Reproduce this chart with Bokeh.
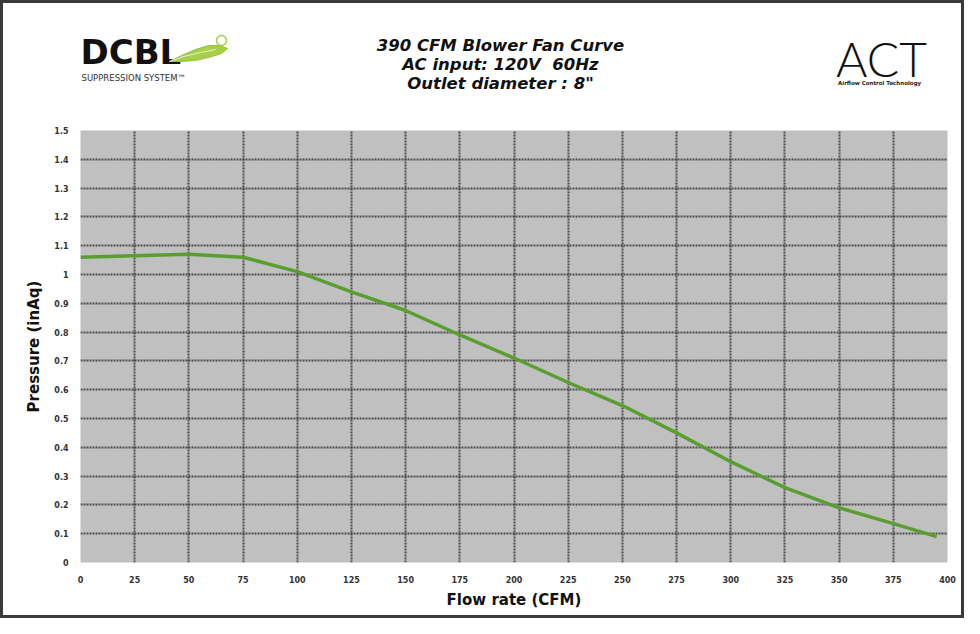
from bokeh.plotting import figure
from bokeh.layouts import column
from bokeh.models import Range1d, FixedTicker
from bokeh.core.properties import value
from bokeh.embed import file_html
from bokeh.resources import INLINE

# Data
flow_cfm = [0, 25, 50, 75, 100, 125, 150, 175, 200, 225, 250, 275, 300, 325, 350, 375, 395]
pressure_inaq = [1.06, 1.065, 1.07, 1.06, 1.01, 0.94, 0.875, 0.79, 0.71, 0.625, 0.545, 0.45, 0.35, 0.26, 0.19, 0.135, 0.09]
x_ticks = [0, 25, 50, 75, 100, 125, 150, 175, 200, 225, 250, 275, 300, 325, 350, 375, 400]
y_ticks = [0, 0.1, 0.2, 0.3, 0.4, 0.5, 0.6, 0.7, 0.8, 0.9, 1.0, 1.1, 1.2, 1.3, 1.4, 1.5]
title_lines = ["390 CFM Blower Fan Curve", "AC input: 120V\u00a0 60Hz", "Outlet diameter : 8\""]
logo_left = ["DCBL", "SUPPRESSION SYSTEM\u2122"]
logo_right = ["ACT", "Airflow  Control  Technology"]

W = 958
HH = 120   # header height
MH = 492   # main plot height
BL, BR = 77, 14  # left/right borders of the chart frame (header frame is aligned to it)

# ---------- header (logos and title) ----------
hdr = figure(width=W, height=HH, output_backend="svg", toolbar_location=None,
             x_axis_location=None, y_axis_location=None,
             x_range=Range1d(BL, W - BR), y_range=Range1d(HH, 0),
             min_border=0, min_border_left=BL, min_border_right=BR,
             min_border_top=0, min_border_bottom=0)
hdr.grid.visible = False
hdr.outline_line_color = None
hdr.background_fill_color = "white"
hdr.border_fill_color = "white"

hdr.text(x=[497, 497, 497], y=[42, 61, 80], text=title_lines,
         text_align="center", text_baseline="middle",
         text_font=value("DejaVu Sans"), text_font_style="bold italic",
         text_font_size="16.5px", text_color="#111111")

hdr.text(x=[77], y=[48], text=[logo_left[0]], text_align="left", text_baseline="middle",
         text_font=value("DejaVu Sans"), text_font_style="bold",
         text_font_size="34px", text_color="#111111")
# leaf
hdr.patch(x=[166, 178, 192, 205, 216, 224, 218, 205, 192, 178],
          y=[58, 52, 46, 42, 42, 45, 50, 54, 57, 58],
          fill_color="#a6cf4c", line_color="#94c23c", line_width=1)
hdr.line(x=[166, 180, 197, 212], y=[58, 53, 49, 46], line_color="#e8f3d0", line_width=1)
hdr.circle(x=[218], y=[37], radius=5, fill_color="white", line_color="#a6cf4c", line_width=1.5)
hdr.text(x=[78], y=[74], text=[logo_left[1]], text_align="left", text_baseline="middle",
         text_font=value("DejaVu Sans"), text_font_size="8.5px", text_color="#333333")

hdr.text(x=[878], y=[55], text=[logo_right[0]], text_align="center", text_baseline="middle",
         text_font=value("'Lato Light', 'DejaVu Sans Light', 'Lato Hairline', sans-serif"),
         text_font_size="48px", text_color="#111111")
hdr.text(x=[878], y=[79], text=[logo_right[1]], text_align="center", text_baseline="middle",
         text_font=value("DejaVu Sans"), text_font_style="bold",
         text_font_size="5.5px", text_color="#222222")

# ---------- main chart ----------
p = figure(width=W, height=MH, output_backend="svg", toolbar_location=None,
           x_range=Range1d(0, 400), y_range=Range1d(0, 1.5),
           min_border_left=BL, min_border_right=BR, min_border_top=7, min_border_bottom=53)
p.background_fill_color = "#c0c0c0"
p.border_fill_color = "white"
p.outline_line_color = None

p.xaxis.ticker = FixedTicker(ticks=x_ticks)
p.yaxis.ticker = FixedTicker(ticks=y_ticks)
p.yaxis.major_label_overrides = {v: ("%g" % v) for v in y_ticks}
for ax in (p.xaxis, p.yaxis):
    ax.axis_line_color = None
    ax.major_tick_line_color = None
    ax.minor_tick_line_color = None
    ax.major_label_text_font = "DejaVu Sans"
    ax.major_label_text_font_style = "bold"
    ax.major_label_text_font_size = "8px"
    ax.major_label_text_color = "#333333"
    ax.axis_label_text_font = "DejaVu Sans"
    ax.axis_label_text_font_style = "bold"
    ax.axis_label_text_font_size = "15px"
    ax.axis_label_text_color = "#111111"
p.xaxis.axis_label = "Flow rate (CFM)"
p.yaxis.axis_label = "Pressure (inAq)"
p.xaxis.major_label_standoff = 7
p.yaxis.major_label_standoff = 6
p.xaxis.axis_label_standoff = 5
p.yaxis.axis_label_standoff = 8

for g in (p.xgrid, p.ygrid):
    g.grid_line_color = "#3c3c3c"
    g.grid_line_width = 2
    g.grid_line_dash = "2 1"
    g.grid_line_alpha = 0.85

p.line(flow_cfm, pressure_inaq, line_color="#5a9e32", line_width=3.5)

layout = column(hdr, p, spacing=0)
layout.styles = {"border": "3px solid #3a3a3a", "gap": "0px"}

open("out.html", "w").write(file_html(layout, INLINE))
